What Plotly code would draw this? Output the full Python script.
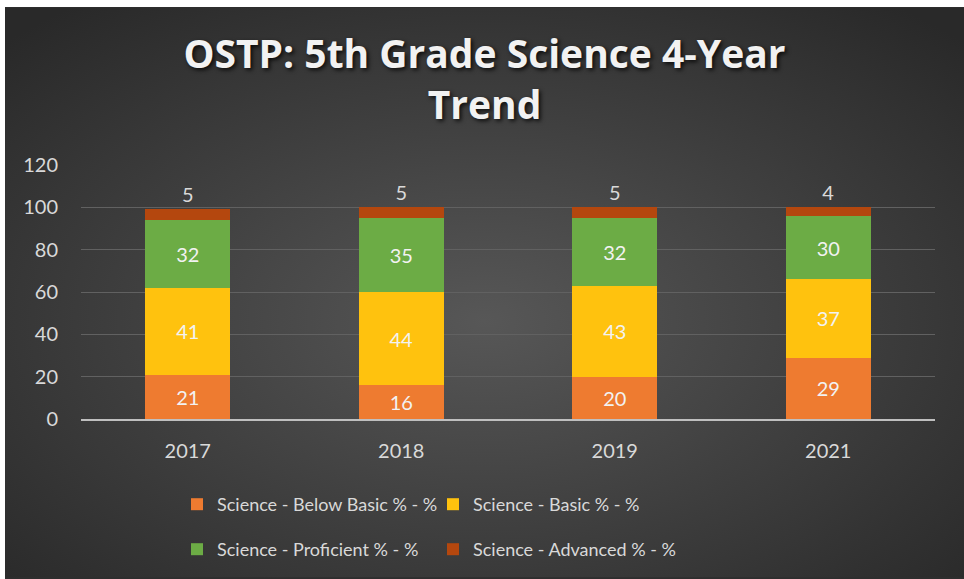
import plotly.graph_objects as go

years = ["2017", "2018", "2019", "2021"]
below_basic = [21, 16, 20, 29]
basic = [41, 44, 43, 37]
proficient = [32, 35, 32, 30]
advanced = [5, 5, 5, 4]

series_names = [
    "Science - Below Basic % - %",
    "Science - Basic % - %",
    "Science - Proficient % - %",
    "Science - Advanced % - %",
]
colors = ["#EE7B30", "#FFC20E", "#6CAC45", "#B4470E"]
legend_rows = ["legend", "legend", "legend2", "legend2"]

# figure is shifted on the page by (5, 7) px -> white strip on top / left like the reference
W, H = 959, 572
L, R, T, B = 76, 29, 158, 159
pw, ph = W - L - R, H - T - B

fig = go.Figure()
for i, vals in enumerate([below_basic, basic, proficient]):
    fig.add_trace(go.Bar(
        x=years, y=vals, name=series_names[i], legend=legend_rows[i],
        marker=dict(color=colors[i], line=dict(width=0)),
        text=vals, textposition="inside", insidetextanchor="middle",
        textfont=dict(family="Lato", size=20, color="#F2F2F2"),
        cliponaxis=False,
    ))
fig.add_trace(go.Bar(
    x=years, y=advanced, name=series_names[3], legend=legend_rows[3],
    marker=dict(color=colors[3], line=dict(width=0)),
    text=advanced, textposition="outside",
    textfont=dict(family="Lato", size=20, color="#D9D9D9"),
    cliponaxis=False,
))

bg_svg = (
    "data:image/svg+xml;utf8,"
    "<svg xmlns='http://www.w3.org/2000/svg' width='959' height='572'>"
    "<defs><radialGradient id='g' cx='50%' cy='55%' r='70%'>"
    "<stop offset='0%' stop-color='%23575757'/>"
    "<stop offset='100%' stop-color='%23292929'/>"
    "</radialGradient></defs>"
    "<rect width='959' height='572' fill='url(%23g)'/></svg>"
)

fig.add_layout_image(dict(
    source=bg_svg, xref="paper", yref="paper",
    x=-L / pw, y=(H - B) / ph,
    sizex=W / pw, sizey=H / ph,
    sizing="stretch", xanchor="left", yanchor="top", layer="below",
))

legend_common = dict(
    orientation="h", xanchor="left", yanchor="top",
    entrywidth=211, traceorder="normal",
    font=dict(family="Lato", size=18, color="#D9D9D9"),
    bgcolor="rgba(0,0,0,0)", itemclick=False, itemdoubleclick=False,
)

fig.update_layout(
    width=W, height=H,
    margin=dict(l=L, r=R, t=T, b=B),
    paper_bgcolor="#2E2E2E",
    plot_bgcolor="rgba(0,0,0,0)",
    barmode="stack",
    bargap=0.6,
    title=dict(
        text="OSTP: 5th Grade Science 4-Year<br>Trend",
        x=0.5, xref="container", xanchor="center",
        y=1 - 61 / H, yref="container", yanchor="middle",
        font=dict(family="Open Sans", size=39, color="#F2F2F2", weight="bold",
                  shadow="2px 2px 4px rgba(0,0,0,0.8)"),
    ),
    font=dict(family="Lato", color="#D9D9D9"),
    xaxis=dict(
        type="category", showgrid=False, showline=True, linecolor="#BFBFBF", linewidth=1.5,
        ticks="outside", ticklen=13, tickcolor="rgba(0,0,0,0)",
        tickfont=dict(family="Lato", size=20, color="#D9D9D9"),
        fixedrange=True,
    ),
    yaxis=dict(
        range=[0, 120], dtick=20, showgrid=True, gridcolor="#616161", gridwidth=1,
        zeroline=False, showline=False,
        ticks="outside", ticklen=18, tickcolor="rgba(0,0,0,0)",
        tickfont=dict(family="Lato", size=20, color="#D9D9D9"),
        fixedrange=True,
    ),
    legend=dict(x=(172 - L) / pw, y=(413 - 479) / ph, **legend_common),
    legend2=dict(x=(172 - L) / pw, y=(413 - 524) / ph, **legend_common),
    showlegend=True,
    uniformtext=dict(minsize=8, mode="show"),
)

fig.write_html("out.html", post_script="document.body.style.margin='7px 0 0 5px';document.body.style.background='white';")
